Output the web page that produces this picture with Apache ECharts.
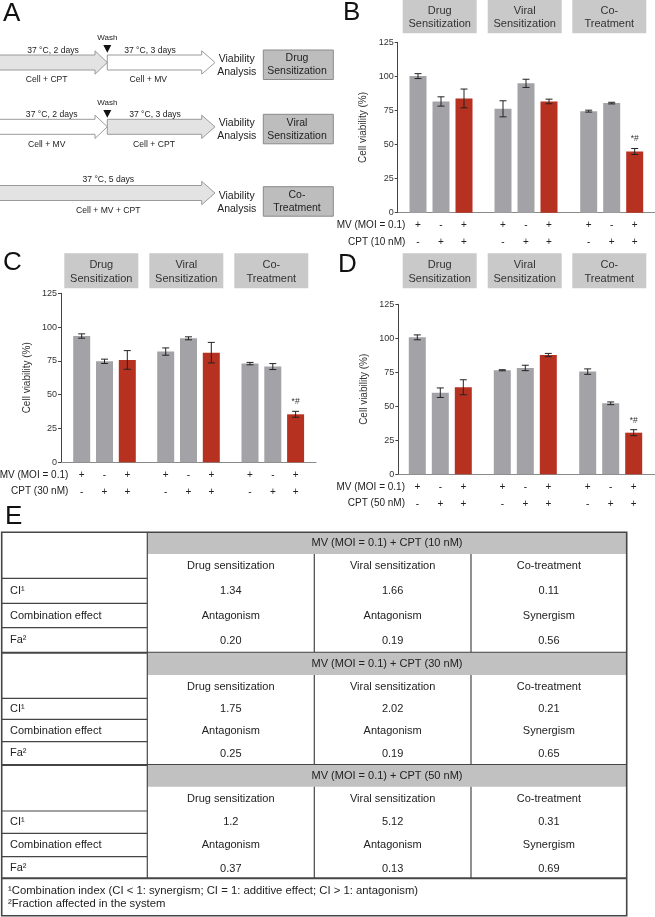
<!DOCTYPE html>
<html>
<head>
<meta charset="utf-8">
<script src="https://cdn.jsdelivr.net/npm/echarts@6/dist/echarts.min.js"></script>
<style>
  html, body { margin: 0; padding: 0; background: #fff; }
  #main { width: 655px; height: 917px; }
</style>
</head>
<body>
<div id="main"></div>
<script>
// ---- data ----
const groupNames = ['Drug\nSensitization', 'Viral\nSensitization', 'Co-\nTreatment'];
const mvSigns = ['+', '-', '+'];
const cptSigns = ['-', '+', '+'];
const yTicks = [0, 25, 50, 75, 100, 125];

const meanB = [100.2, 81.6, 83.8, 76.2, 94.9, 81.6, 74.5, 80.4, 44.9];
const errB  = [1.8, 3.4, 6.9, 5.9, 3.0, 1.7, 0.7, 0.6, 2.2];
const meanC = [93.4, 74.7, 75.7, 81.9, 91.7, 81.1, 73.0, 70.8, 35.5];
const errC  = [1.6, 1.6, 6.9, 2.7, 1.1, 7.6, 0.9, 2.2, 2.2];
const meanD = [100.7, 60.0, 64.0, 76.5, 78.2, 87.7, 75.5, 52.2, 30.6];
const errD  = [1.8, 3.5, 5.5, 0.4, 2.0, 1.2, 2.0, 1.0, 2.2];
const sigMarks = ['', '', '', '', '', '', '', '', '*#'];

const tableConc = ['10 nM', '30 nM', '50 nM'];
const tableCols = ['Drug sensitization', 'Viral sensitization', 'Co-treatment'];
const tableCI = [['1.34', '1.66', '0.11'], ['1.75', '2.02', '0.21'], ['1.2', '5.12', '0.31']];
const tableEffect = [['Antagonism', 'Antagonism', 'Synergism'], ['Antagonism', 'Antagonism', 'Synergism'], ['Antagonism', 'Antagonism', 'Synergism']];
const tableFa = [['0.20', '0.19', '0.56'], ['0.25', '0.19', '0.65'], ['0.37', '0.13', '0.69']];
const footnotes = ['¹Combination index (CI < 1: synergism; CI = 1: additive effect; CI > 1: antagonism)', '²Fraction affected in the system'];

// ---- layout ----
const FONT = '"Liberation Sans", Arial, sans-serif';
const GRAY = '#a3a3a7', RED = '#b73121';

const panels = [
  {mean: meanB, err: errB, cpt: 'CPT (10 nM)', left: 397.7, top: 42.3, h: 170.4, width: 257.3,
   groups: [406.5, 491.5, 577.2], gw: 69, headTop: 0, headH: 33.3, boxes: [402.7, 487.7, 572.3], rowX: 405.3},
  {mean: meanC, err: errC, cpt: 'CPT (30 nM)', left: 61, top: 293.3, h: 169, width: 255,
   groups: [70.3, 154.3, 238.6], gw: 68.4, headTop: 253.3, headH: 35, boxes: [64.3, 149.3, 234.3], rowX: 68.3},
  {mean: meanD, err: errD, cpt: 'CPT (50 nM)', left: 398.3, top: 304.3, h: 170, width: 256.7,
   groups: [405.8, 490.8, 576.2], gw: 69, headTop: 253.3, headH: 35, boxes: [402.7, 487.7, 572.3], rowX: 405}
];

const grid = [], xAxis = [], yAxis = [], series = [], graphic = [];

function renderErr(params, api) {
  const i = api.value(0), m = api.value(1), e = api.value(2);
  const t = api.coord([i, m + e]), b = api.coord([i, m - e]);
  const x = t[0], w = 3.5, st = {stroke: '#222', lineWidth: 1};
  return {type: 'group', children: [
    {type: 'line', shape: {x1: x, y1: t[1], x2: x, y2: b[1]}, style: st},
    {type: 'line', shape: {x1: x - w, y1: t[1], x2: x + w, y2: t[1]}, style: st},
    {type: 'line', shape: {x1: x - w, y1: b[1], x2: x + w, y2: b[1]}, style: st}
  ]};
}

panels.forEach(p => {
  // frame grid with the y axis and the baseline
  const fi = grid.length;
  grid.push({left: p.left, top: p.top, width: p.width, height: p.h});
  xAxis.push({gridIndex: fi, type: 'value', min: 0, max: 1,
    axisLine: {show: true, lineStyle: {color: '#8a8a8a', width: 1}},
    axisTick: {show: false}, axisLabel: {show: false}, splitLine: {show: false}});
  yAxis.push({gridIndex: fi, type: 'value', min: 0, max: 125, interval: 25,
    name: 'Cell viability (%)', nameLocation: 'middle', nameGap: 29,
    nameTextStyle: {fontFamily: FONT, fontSize: 10, color: '#333'},
    axisLine: {show: true, lineStyle: {color: '#444', width: 1}},
    axisTick: {show: true, length: 3, lineStyle: {color: '#444'}},
    axisLabel: {fontFamily: FONT, fontSize: 9, color: '#333', margin: 4},
    splitLine: {show: false}});

  p.groups.forEach((gl, g) => {
    const gi = grid.length;
    grid.push({left: gl, top: p.top, width: p.gw, height: p.h});
    xAxis.push({gridIndex: gi, type: 'category',
      data: mvSigns.map((m, k) => m + '\n' + cptSigns[k]),
      axisLine: {show: false}, axisTick: {show: false},
      axisLabel: {interval: 0, fontFamily: FONT, fontSize: 10, color: '#222', lineHeight: 17, margin: 4}});
    yAxis.push({gridIndex: gi, type: 'value', min: 0, max: 125, show: false});
    const vals = p.mean.slice(g * 3, g * 3 + 3);
    const errs = p.err.slice(g * 3, g * 3 + 3);
    const sigs = sigMarks.slice(g * 3, g * 3 + 3);
    series.push({type: 'bar', xAxisIndex: gi, yAxisIndex: gi, barWidth: 17, silent: true,
      data: vals.map((v, k) => ({value: v,
        itemStyle: {color: k === 2 ? RED : GRAY},
        label: {show: !!sigs[k], formatter: sigs[k], position: 'top', distance: 8,
                fontFamily: FONT, fontSize: 8.5, color: '#333'}}))});
    series.push({type: 'custom', xAxisIndex: gi, yAxisIndex: gi, silent: true, z: 5,
      renderItem: renderErr, encode: {x: 0, y: 1},
      data: vals.map((v, k) => [k, v, errs[k]])});
    // group header box
    graphic.push({type: 'rect', shape: {x: p.boxes[g], y: p.headTop, width: 74, height: p.headH},
      style: {fill: '#c9c9c9'}});
    graphic.push({type: 'text', style: {text: groupNames[g], x: p.boxes[g] + 37, y: p.headTop + p.headH / 2 + 1,
      textAlign: 'center', textVerticalAlign: 'middle', font: '11px ' + FONT, fill: '#333', lineHeight: 13.5}});
  });
  // row labels
  const y0 = p.top + p.h;
  graphic.push({type: 'text', style: {text: 'MV (MOI = 0.1)', x: p.rowX, y: y0 + 12.5,
    textAlign: 'right', textVerticalAlign: 'middle', font: '10px ' + FONT, fill: '#222'}});
  graphic.push({type: 'text', style: {text: p.cpt, x: p.rowX, y: y0 + 29.3,
    textAlign: 'right', textVerticalAlign: 'middle', font: '10px ' + FONT, fill: '#222'}});
});

// ---- panel letters ----
[['A', 3, 14], ['B', 343, 13], ['C', 3, 262.5], ['D', 338, 265], ['E', 5, 516.5]].forEach(l => {
  graphic.push({type: 'text', style: {text: l[0], x: l[1], y: l[2], textVerticalAlign: 'middle',
    font: '26px ' + FONT, fill: '#111'}});
});

// ---- panel A scheme ----
function arrow(x0, xh, xt, cy, fill) {
  const h = 7.5, H = 11.7;
  graphic.push({type: 'polygon', shape: {points: [[x0, cy - h], [xh, cy - h], [xh, cy - H], [xt, cy],
    [xh, cy + H], [xh, cy + h], [x0, cy + h]]}, style: {fill: fill, stroke: '#9a9a9a', lineWidth: 1}});
}
function txt(s, x, y, size, align) {
  graphic.push({type: 'text', style: {text: s, x: x, y: y, textAlign: align || 'center',
    textVerticalAlign: 'middle', font: size + 'px ' + FONT, fill: '#222', lineHeight: size * 1.25}});
}
const LIGHT = '#e3e3e3';
arrow(-1, 95, 107.3, 62.5, LIGHT);
arrow(107.3, 201.7, 215, 62.5, '#fff');
arrow(-1, 95, 107.3, 126.8, '#fff');
arrow(107.3, 201.7, 215, 126.8, LIGHT);
arrow(-1, 201.7, 215, 193, LIGHT);
[[37.3, 45], [102.7, 110]].forEach(w => {
  txt('Wash', 107.3, w[0], 8);
  graphic.push({type: 'polygon', shape: {points: [[103.3, w[1]], [111.3, w[1]], [107.3, w[1] + 7.7]]},
    style: {fill: '#111'}});
});
txt('37 °C, 2 days', 53, 50.5, 8.6);
txt('Cell + CPT', 46.7, 80, 8.6);
txt('37 °C, 3 days', 150, 50.5, 8.6);
txt('Cell + MV', 148.3, 80, 8.6);
txt('37 °C, 2 days', 51.7, 115, 8.6);
txt('Cell + MV', 46.7, 145, 8.6);
txt('37 °C, 3 days', 155, 115, 8.6);
txt('Cell + CPT', 154, 145, 8.6);
txt('37 °C, 5 days', 108.3, 180, 8.6);
txt('Cell + MV + CPT', 108.3, 210.7, 8.6);
[[50, 'Drug\nSensitization', 66], [114.3, 'Viral\nSensitization', 130.5], [186.7, 'Co-\nTreatment', 198]].forEach(b => {
  graphic.push({type: 'rect', shape: {x: 263.3, y: b[0], width: 70, height: 29.5},
    style: {fill: '#bdbdbd', stroke: '#8a8a8a', lineWidth: 1}});
  txt(b[1], 297, b[0] + 15, 10.5);
  txt('Viability\nAnalysis', 236.7, b[0] + 15.5, 10.5);
});

// ---- panel E table ----
const TL = 1.7, TR = 626.7, C1 = 147.3, C2 = 314.3, C3 = 471;
const colX = [(C1 + C2) / 2, (C2 + C3) / 2, (C3 + TR) / 2];
const blockRows = [
  [532.3, 554, 578.3, 603.3, 627.7, 652.7],
  [652.7, 675, 698.3, 719.3, 741.7, 765],
  [765, 786.7, 811, 833.3, 856.7, 878.3]
];
const LINE = '#454545';
function hline(x1, x2, y, w) {
  graphic.push({type: 'line', shape: {x1: x1, y1: y, x2: x2, y2: y}, style: {stroke: LINE, lineWidth: w || 1.2}});
}
function vline(x, y1, y2, w) {
  graphic.push({type: 'line', shape: {x1: x, y1: y1, x2: x, y2: y2}, style: {stroke: LINE, lineWidth: w || 1.2}});
}
blockRows.forEach((r, b) => {
  graphic.push({type: 'rect', shape: {x: C1, y: r[0], width: TR - C1, height: r[1] - r[0]}, style: {fill: '#c1c1c1'}});
  txt('MV (MOI = 0.1) + CPT (' + tableConc[b] + ')', (C1 + TR) / 2, (r[0] + r[1]) / 2, 11);
  const mid = k => (r[k] + r[k + 1]) / 2;
  tableCols.forEach((c, j) => {
    txt(c, colX[j], mid(1), 11);
    txt(tableCI[b][j], colX[j], mid(2), 11);
    txt(tableEffect[b][j], colX[j], mid(3), 11);
    txt(tableFa[b][j], colX[j], mid(4) + 1, 11);
  });
  txt('CI¹', 10, mid(2), 11, 'left');
  txt('Combination effect', 10, mid(3), 11, 'left');
  txt('Fa²', 10, mid(4), 11, 'left');
  hline(TL, C1, r[2]); hline(TL, C1, r[3]); hline(TL, C1, r[4]);
  vline(C2, r[1], r[5]); vline(C3, r[1], r[5]);
  hline(TL, TR, r[5], 2);
});
vline(C1, 532.3, 878.3);
txt(footnotes[0], 8, 890.7, 11.3, 'left');
txt(footnotes[1], 8, 904, 11.3, 'left');
graphic.push({type: 'rect', shape: {x: TL, y: 532.3, width: TR - TL, height: 915.7 - 532.3},
  style: {fill: 'none', stroke: LINE, lineWidth: 1.6}});

const chart = echarts.init(document.getElementById('main'));
chart.setOption({
  animation: false,
  grid: grid,
  xAxis: xAxis,
  yAxis: yAxis,
  series: series,
  graphic: {elements: graphic}
});
</script>
</body>
</html>
